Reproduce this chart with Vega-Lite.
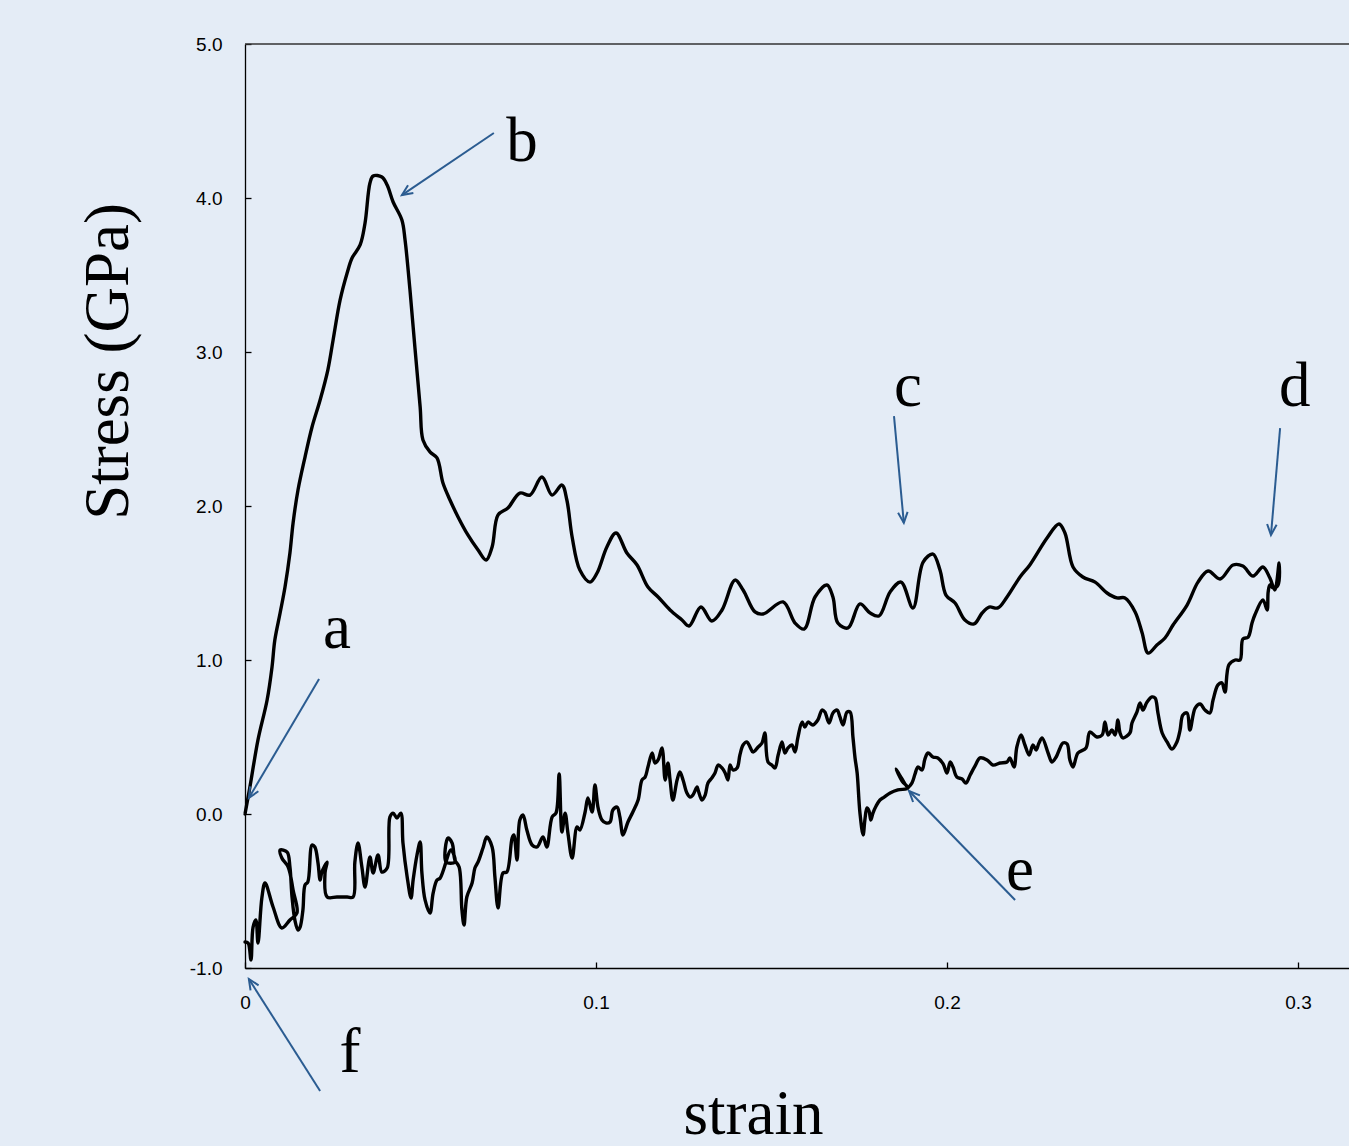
{
  "$schema": "https://vega.github.io/schema/vega-lite/v6.json",
  "width": 1104,
  "height": 924,
  "autosize": {"type": "none"},
  "padding": {"left": 245, "top": 44, "right": 0, "bottom": 178},
  "background": "#e4ecf6",
  "config": {"view": {"stroke": null}},
  "resolve": {"axis": {"x": "independent", "y": "independent"}},
  "datasets": {
    "curve": [
      {"i":1,"strain":0,"stress":0},{"i":2,"strain":0.0014,"stress":0.175},{"i":3,"strain":0.0037,"stress":0.481},{"i":4,"strain":0.0063,"stress":0.740},{"i":5,"strain":0.0077,"stress":0.955},{"i":6,"strain":0.0085,"stress":1.130},{"i":7,"strain":0.0100,"stress":1.305},{"i":8,"strain":0.0114,"stress":1.474},{"i":9,"strain":0.0128,"stress":1.695},{"i":10,"strain":0.0137,"stress":1.890},
      {"i":11,"strain":0.0151,"stress":2.104},{"i":12,"strain":0.0171,"stress":2.318},{"i":13,"strain":0.0191,"stress":2.513},{"i":14,"strain":0.0214,"stress":2.688},{"i":15,"strain":0.0236,"stress":2.883},{"i":16,"strain":0.0251,"stress":3.078},{"i":17,"strain":0.0271,"stress":3.338},{"i":18,"strain":0.0291,"stress":3.513},{"i":19,"strain":0.0305,"stress":3.610},{"i":20,"strain":0.0328,"stress":3.695},
      {"i":21,"strain":0.0342,"stress":3.838},{"i":22,"strain":0.0356,"stress":4.097},{"i":23,"strain":0.0365,"stress":4.143},{"i":24,"strain":0.0390,"stress":4.136},{"i":25,"strain":0.0405,"stress":4.084},{"i":26,"strain":0.0422,"stress":3.974},{"i":27,"strain":0.0447,"stress":3.857},{"i":28,"strain":0.0456,"stress":3.727},{"i":29,"strain":0.0470,"stress":3.403},{"i":30,"strain":0.0484,"stress":3.032},
      {"i":31,"strain":0.0499,"stress":2.643},{"i":32,"strain":0.0507,"stress":2.429},{"i":33,"strain":0.0527,"stress":2.351},{"i":34,"strain":0.0547,"stress":2.312},{"i":35,"strain":0.0564,"stress":2.149},{"i":36,"strain":0.0584,"stress":2.039},{"i":37,"strain":0.0607,"stress":1.929},{"i":38,"strain":0.0635,"stress":1.812},{"i":39,"strain":0.0664,"stress":1.714},{"i":40,"strain":0.0687,"stress":1.649},
      {"i":41,"strain":0.0704,"stress":1.734},{"i":42,"strain":0.0721,"stress":1.942},{"i":43,"strain":0.0749,"stress":1.987},{"i":44,"strain":0.0783,"stress":2.084},{"i":45,"strain":0.0812,"stress":2.071},{"i":46,"strain":0.0846,"stress":2.188},{"i":47,"strain":0.0875,"stress":2.071},{"i":48,"strain":0.0903,"stress":2.136},{"i":49,"strain":0.0917,"stress":2.039},{"i":50,"strain":0.0932,"stress":1.799},
      {"i":51,"strain":0.0954,"stress":1.584},{"i":52,"strain":0.0983,"stress":1.506},{"i":53,"strain":0.1003,"stress":1.565},{"i":54,"strain":0.1031,"stress":1.734},{"i":55,"strain":0.1057,"stress":1.825},{"i":56,"strain":0.1088,"stress":1.695},{"i":57,"strain":0.1117,"stress":1.617},{"i":58,"strain":0.1148,"stress":1.474},{"i":59,"strain":0.1177,"stress":1.409},{"i":60,"strain":0.1211,"stress":1.325},
      {"i":61,"strain":0.1245,"stress":1.260},{"i":62,"strain":0.1265,"stress":1.221},{"i":63,"strain":0.1299,"stress":1.344},{"i":64,"strain":0.1330,"stress":1.253},{"i":65,"strain":0.1359,"stress":1.325},{"i":66,"strain":0.1396,"stress":1.519},{"i":67,"strain":0.1419,"stress":1.455},{"i":68,"strain":0.1453,"stress":1.312},{"i":69,"strain":0.1476,"stress":1.299},{"i":70,"strain":0.1533,"stress":1.377},
      {"i":71,"strain":0.1567,"stress":1.240},{"i":72,"strain":0.1593,"stress":1.201},{"i":73,"strain":0.1624,"stress":1.409},{"i":74,"strain":0.1658,"stress":1.487},{"i":75,"strain":0.1675,"stress":1.409},{"i":76,"strain":0.1689,"stress":1.240},{"i":77,"strain":0.1718,"stress":1.208},{"i":78,"strain":0.1752,"stress":1.364},{"i":79,"strain":0.1781,"stress":1.305},{"i":80,"strain":0.1806,"stress":1.286},
      {"i":81,"strain":0.1838,"stress":1.442},{"i":82,"strain":0.1869,"stress":1.506},{"i":83,"strain":0.1903,"stress":1.338},{"i":84,"strain":0.1932,"stress":1.636},{"i":85,"strain":0.1960,"stress":1.688},{"i":86,"strain":0.1980,"stress":1.584},{"i":87,"strain":0.1997,"stress":1.422},{"i":88,"strain":0.2023,"stress":1.370},{"i":89,"strain":0.2051,"stress":1.260},{"i":90,"strain":0.2077,"stress":1.234},
      {"i":91,"strain":0.2100,"stress":1.305},{"i":92,"strain":0.2120,"stress":1.344},{"i":93,"strain":0.2145,"stress":1.338},{"i":94,"strain":0.2171,"stress":1.409},{"i":95,"strain":0.2208,"stress":1.539},{"i":96,"strain":0.2236,"stress":1.617},{"i":97,"strain":0.2285,"stress":1.792},{"i":98,"strain":0.2319,"stress":1.883},{"i":99,"strain":0.2336,"stress":1.825},{"i":100,"strain":0.2359,"stress":1.604},
      {"i":101,"strain":0.2387,"stress":1.539},{"i":102,"strain":0.2422,"stress":1.506},{"i":103,"strain":0.2456,"stress":1.435},{"i":104,"strain":0.2484,"stress":1.403},{"i":105,"strain":0.2507,"stress":1.403},{"i":106,"strain":0.2536,"stress":1.312},{"i":107,"strain":0.2556,"stress":1.175},{"i":108,"strain":0.2573,"stress":1.045},{"i":109,"strain":0.2598,"stress":1.097},{"i":110,"strain":0.2621,"stress":1.143},
      {"i":111,"strain":0.2644,"stress":1.227},{"i":112,"strain":0.2684,"stress":1.357},{"i":113,"strain":0.2715,"stress":1.506},{"i":114,"strain":0.2744,"stress":1.578},{"i":115,"strain":0.2778,"stress":1.526},{"i":116,"strain":0.2815,"stress":1.617},{"i":117,"strain":0.2843,"stress":1.610},{"i":118,"strain":0.2872,"stress":1.545},{"i":119,"strain":0.2900,"stress":1.604},{"i":120,"strain":0.2920,"stress":1.532},
      {"i":121,"strain":0.2934,"stress":1.455},{"i":122,"strain":0.2946,"stress":1.630},{"i":123,"strain":0.2943,"stress":1.487},{"i":124,"strain":0.2929,"stress":1.468},{"i":125,"strain":0.2920,"stress":1.487},{"i":126,"strain":0.2915,"stress":1.442},{"i":127,"strain":0.2912,"stress":1.325},{"i":128,"strain":0.2900,"stress":1.390},{"i":129,"strain":0.2877,"stress":1.292},{"i":130,"strain":0.2869,"stress":1.240},
      {"i":131,"strain":0.2858,"stress":1.149},{"i":132,"strain":0.2843,"stress":1.136},{"i":133,"strain":0.2835,"stress":1.000},{"i":134,"strain":0.2821,"stress":1.000},{"i":135,"strain":0.2803,"stress":0.968},{"i":136,"strain":0.2792,"stress":0.792},{"i":137,"strain":0.2783,"stress":0.851},{"i":138,"strain":0.2772,"stress":0.838},{"i":139,"strain":0.2758,"stress":0.740},{"i":140,"strain":0.2749,"stress":0.656},
      {"i":141,"strain":0.2735,"stress":0.675},{"i":142,"strain":0.2721,"stress":0.714},{"i":143,"strain":0.2707,"stress":0.688},{"i":144,"strain":0.2692,"stress":0.545},{"i":145,"strain":0.2684,"stress":0.656},{"i":146,"strain":0.2672,"stress":0.643},{"i":147,"strain":0.2664,"stress":0.545},{"i":148,"strain":0.2655,"stress":0.468},{"i":149,"strain":0.2641,"stress":0.422},{"i":150,"strain":0.2627,"stress":0.468},
      {"i":151,"strain":0.2613,"stress":0.526},{"i":152,"strain":0.2601,"stress":0.656},{"i":153,"strain":0.2593,"stress":0.753},{"i":154,"strain":0.2584,"stress":0.760},{"i":155,"strain":0.2570,"stress":0.727},{"i":156,"strain":0.2558,"stress":0.675},{"i":157,"strain":0.2550,"stress":0.721},{"i":158,"strain":0.2541,"stress":0.662},{"i":159,"strain":0.2527,"stress":0.591},{"i":160,"strain":0.2521,"stress":0.526},
      {"i":161,"strain":0.2501,"stress":0.494},{"i":162,"strain":0.2493,"stress":0.526},{"i":163,"strain":0.2487,"stress":0.610},{"i":164,"strain":0.2479,"stress":0.513},{"i":165,"strain":0.2470,"stress":0.545},{"i":166,"strain":0.2459,"stress":0.513},{"i":167,"strain":0.2450,"stress":0.597},{"i":168,"strain":0.2442,"stress":0.513},{"i":169,"strain":0.2427,"stress":0.500},{"i":170,"strain":0.2407,"stress":0.532},
      {"i":171,"strain":0.2396,"stress":0.429},{"i":172,"strain":0.2373,"stress":0.396},{"i":173,"strain":0.2359,"stress":0.305},{"i":174,"strain":0.2350,"stress":0.351},{"i":175,"strain":0.2342,"stress":0.455},{"i":176,"strain":0.2330,"stress":0.461},{"i":177,"strain":0.2322,"stress":0.429},{"i":178,"strain":0.2311,"stress":0.370},{"i":179,"strain":0.2299,"stress":0.338},{"i":180,"strain":0.2288,"stress":0.396},
      {"i":181,"strain":0.2271,"stress":0.494},{"i":182,"strain":0.2262,"stress":0.461},{"i":183,"strain":0.2254,"stress":0.416},{"i":184,"strain":0.2245,"stress":0.448},{"i":185,"strain":0.2234,"stress":0.383},{"i":186,"strain":0.2222,"stress":0.448},{"i":187,"strain":0.2211,"stress":0.513},{"i":188,"strain":0.2199,"stress":0.435},{"i":189,"strain":0.2191,"stress":0.305},{"i":190,"strain":0.2179,"stress":0.364},
      {"i":191,"strain":0.2171,"stress":0.338},{"i":192,"strain":0.2151,"stress":0.331},{"i":193,"strain":0.2131,"stress":0.318},{"i":194,"strain":0.2114,"stress":0.351},{"i":195,"strain":0.2094,"stress":0.364},{"i":196,"strain":0.2080,"stress":0.312},{"i":197,"strain":0.2066,"stress":0.253},{"i":198,"strain":0.2054,"stress":0.201},{"i":199,"strain":0.2043,"stress":0.227},{"i":200,"strain":0.2028,"stress":0.240},
      {"i":201,"strain":0.2017,"stress":0.305},{"i":202,"strain":0.2009,"stress":0.338},{"i":203,"strain":0.2000,"stress":0.266},{"i":204,"strain":0.1989,"stress":0.325},{"i":205,"strain":0.1974,"stress":0.364},{"i":206,"strain":0.1960,"stress":0.370},{"i":207,"strain":0.1946,"stress":0.396},{"i":208,"strain":0.1937,"stress":0.357},{"i":209,"strain":0.1929,"stress":0.286},{"i":210,"strain":0.1917,"stress":0.305},
      {"i":211,"strain":0.1909,"stress":0.260},{"i":212,"strain":0.1900,"stress":0.201},{"i":213,"strain":0.1889,"stress":0.175},{"i":214,"strain":0.1872,"stress":0.227},{"i":215,"strain":0.1855,"stress":0.292},{"i":216,"strain":0.1872,"stress":0.214},{"i":217,"strain":0.1889,"stress":0.169},{"i":218,"strain":0.1860,"stress":0.156},{"i":219,"strain":0.1838,"stress":0.136},{"i":220,"strain":0.1821,"stress":0.110},
      {"i":221,"strain":0.1809,"stress":0.091},{"i":222,"strain":0.1798,"stress":0.052},{"i":223,"strain":0.1789,"stress":0.006},{"i":224,"strain":0.1783,"stress":-0.039},{"i":225,"strain":0.1778,"stress":0.019},{"i":226,"strain":0.1772,"stress":0.039},{"i":227,"strain":0.1766,"stress":-0.039},{"i":228,"strain":0.1761,"stress":-0.136},{"i":229,"strain":0.1752,"stress":0.006},{"i":230,"strain":0.1744,"stress":0.266},
      {"i":231,"strain":0.1738,"stress":0.364},{"i":232,"strain":0.1732,"stress":0.500},{"i":233,"strain":0.1724,"stress":0.662},{"i":234,"strain":0.1715,"stress":0.662},{"i":235,"strain":0.1704,"stress":0.578},{"i":236,"strain":0.1695,"stress":0.630},{"i":237,"strain":0.1687,"stress":0.675},{"i":238,"strain":0.1675,"stress":0.656},{"i":239,"strain":0.1664,"stress":0.591},{"i":240,"strain":0.1652,"stress":0.662},
      {"i":241,"strain":0.1644,"stress":0.675},{"i":242,"strain":0.1632,"stress":0.610},{"i":243,"strain":0.1618,"stress":0.578},{"i":244,"strain":0.1604,"stress":0.597},{"i":245,"strain":0.1595,"stress":0.565},{"i":246,"strain":0.1587,"stress":0.597},{"i":247,"strain":0.1575,"stress":0.494},{"i":248,"strain":0.1567,"stress":0.403},{"i":249,"strain":0.1558,"stress":0.448},{"i":250,"strain":0.1547,"stress":0.429},
      {"i":251,"strain":0.1538,"stress":0.396},{"i":252,"strain":0.1530,"stress":0.468},{"i":253,"strain":0.1519,"stress":0.383},{"i":254,"strain":0.1510,"stress":0.299},{"i":255,"strain":0.1501,"stress":0.318},{"i":256,"strain":0.1490,"stress":0.338},{"i":257,"strain":0.1481,"stress":0.526},{"i":258,"strain":0.1473,"stress":0.461},{"i":259,"strain":0.1462,"stress":0.435},{"i":260,"strain":0.1447,"stress":0.403},
      {"i":261,"strain":0.1439,"stress":0.435},{"i":262,"strain":0.1430,"stress":0.468},{"i":263,"strain":0.1419,"stress":0.448},{"i":264,"strain":0.1410,"stress":0.383},{"i":265,"strain":0.1402,"stress":0.299},{"i":266,"strain":0.1390,"stress":0.286},{"i":267,"strain":0.1382,"stress":0.318},{"i":268,"strain":0.1376,"stress":0.221},{"i":269,"strain":0.1368,"stress":0.266},{"i":270,"strain":0.1359,"stress":0.299},
      {"i":271,"strain":0.1348,"stress":0.318},{"i":272,"strain":0.1339,"stress":0.266},{"i":273,"strain":0.1330,"stress":0.234},{"i":274,"strain":0.1319,"stress":0.201},{"i":275,"strain":0.1311,"stress":0.123},{"i":276,"strain":0.1302,"stress":0.091},{"i":277,"strain":0.1291,"stress":0.156},{"i":278,"strain":0.1288,"stress":0.175},{"i":279,"strain":0.1276,"stress":0.123},{"i":280,"strain":0.1268,"stress":0.110},
      {"i":281,"strain":0.1259,"stress":0.136},{"i":282,"strain":0.1248,"stress":0.221},{"i":283,"strain":0.1239,"stress":0.273},{"i":284,"strain":0.1231,"stress":0.221},{"i":285,"strain":0.1219,"stress":0.091},{"i":286,"strain":0.1211,"stress":0.221},{"i":287,"strain":0.1205,"stress":0.331},{"i":288,"strain":0.1197,"stress":0.221},{"i":289,"strain":0.1188,"stress":0.429},{"i":290,"strain":0.1177,"stress":0.351},
      {"i":291,"strain":0.1168,"stress":0.331},{"i":292,"strain":0.1160,"stress":0.396},{"i":293,"strain":0.1148,"stress":0.305},{"i":294,"strain":0.1140,"stress":0.240},{"i":295,"strain":0.1131,"stress":0.221},{"i":296,"strain":0.1120,"stress":0.091},{"i":297,"strain":0.1105,"stress":0.013},{"i":298,"strain":0.1091,"stress":-0.052},{"i":299,"strain":0.1077,"stress":-0.136},{"i":300,"strain":0.1068,"stress":-0.019},
      {"i":301,"strain":0.1060,"stress":0.045},{"i":302,"strain":0.1048,"stress":0.026},{"i":303,"strain":0.1040,"stress":-0.052},{"i":304,"strain":0.1028,"stress":-0.058},{"i":305,"strain":0.1017,"stress":-0.039},{"i":306,"strain":0.1006,"stress":0.039},{"i":307,"strain":0.0997,"stress":0.188},{"i":308,"strain":0.0989,"stress":0.013},{"i":309,"strain":0.0977,"stress":0.104},{"i":310,"strain":0.0969,"stress":0.013},
      {"i":311,"strain":0.0954,"stress":-0.104},{"i":312,"strain":0.0946,"stress":-0.084},{"i":313,"strain":0.0932,"stress":-0.286},{"i":314,"strain":0.0920,"stress":-0.123},{"i":315,"strain":0.0912,"stress":0.006},{"i":316,"strain":0.0903,"stress":-0.117},{"i":317,"strain":0.0895,"stress":0.260},{"i":318,"strain":0.0886,"stress":0.006},{"i":319,"strain":0.0875,"stress":-0.019},{"i":320,"strain":0.0860,"stress":-0.214},
      {"i":321,"strain":0.0849,"stress":-0.149},{"i":322,"strain":0.0832,"stress":-0.214},{"i":323,"strain":0.0818,"stress":-0.201},{"i":324,"strain":0.0803,"stress":-0.104},{"i":325,"strain":0.0792,"stress":-0.006},{"i":326,"strain":0.0783,"stress":-0.039},{"i":327,"strain":0.0775,"stress":-0.299},{"i":328,"strain":0.0766,"stress":-0.136},{"i":329,"strain":0.0761,"stress":-0.156},{"i":330,"strain":0.0746,"stress":-0.377},
      {"i":331,"strain":0.0735,"stress":-0.383},{"i":332,"strain":0.0721,"stress":-0.610},{"i":333,"strain":0.0712,"stress":-0.409},{"i":334,"strain":0.0704,"stress":-0.214},{"i":335,"strain":0.0689,"stress":-0.149},{"i":336,"strain":0.0678,"stress":-0.221},{"i":337,"strain":0.0664,"stress":-0.312},{"i":338,"strain":0.0655,"stress":-0.351},{"i":339,"strain":0.0647,"stress":-0.448},{"i":340,"strain":0.0632,"stress":-0.539},
      {"i":341,"strain":0.0624,"stress":-0.721},{"i":342,"strain":0.0618,"stress":-0.623},{"i":343,"strain":0.0610,"stress":-0.344},{"i":344,"strain":0.0598,"stress":-0.299},{"i":345,"strain":0.0590,"stress":-0.188},{"i":346,"strain":0.0578,"stress":-0.156},{"i":347,"strain":0.0573,"stress":-0.312},{"i":348,"strain":0.0598,"stress":-0.312},{"i":349,"strain":0.0587,"stress":-0.234},{"i":350,"strain":0.0556,"stress":-0.416},
      {"i":351,"strain":0.0547,"stress":-0.429},{"i":352,"strain":0.0536,"stress":-0.513},{"i":353,"strain":0.0527,"stress":-0.643},{"i":354,"strain":0.0513,"stress":-0.558},{"i":355,"strain":0.0504,"stress":-0.383},{"i":356,"strain":0.0499,"stress":-0.182},{"i":357,"strain":0.0490,"stress":-0.266},{"i":358,"strain":0.0479,"stress":-0.429},{"i":359,"strain":0.0473,"stress":-0.545},{"i":360,"strain":0.0462,"stress":-0.409},
      {"i":361,"strain":0.0450,"stress":-0.188},{"i":362,"strain":0.0444,"stress":0.006},{"i":363,"strain":0.0433,"stress":-0.026},{"i":364,"strain":0.0422,"stress":0.006},{"i":365,"strain":0.0413,"stress":-0.019},{"i":366,"strain":0.0405,"stress":-0.351},{"i":367,"strain":0.0390,"stress":-0.377},{"i":368,"strain":0.0379,"stress":-0.266},{"i":369,"strain":0.0365,"stress":-0.383},{"i":370,"strain":0.0356,"stress":-0.279},
      {"i":371,"strain":0.0342,"stress":-0.474},{"i":372,"strain":0.0333,"stress":-0.344},{"i":373,"strain":0.0322,"stress":-0.188},{"i":374,"strain":0.0313,"stress":-0.312},{"i":375,"strain":0.0308,"stress":-0.539},{"i":376,"strain":0.0291,"stress":-0.539},{"i":377,"strain":0.0262,"stress":-0.539},{"i":378,"strain":0.0234,"stress":-0.539},{"i":379,"strain":0.0228,"stress":-0.383},{"i":380,"strain":0.0234,"stress":-0.312},
      {"i":381,"strain":0.0219,"stress":-0.377},{"i":382,"strain":0.0214,"stress":-0.429},{"i":383,"strain":0.0208,"stress":-0.318},{"i":384,"strain":0.0199,"stress":-0.214},{"i":385,"strain":0.0191,"stress":-0.201},{"i":386,"strain":0.0179,"stress":-0.442},{"i":387,"strain":0.0171,"stress":-0.461},{"i":388,"strain":0.0165,"stress":-0.623},{"i":389,"strain":0.0157,"stress":-0.734},{"i":390,"strain":0.0151,"stress":-0.753},
      {"i":391,"strain":0.0142,"stress":-0.688},{"i":392,"strain":0.0134,"stress":-0.539},{"i":393,"strain":0.0128,"stress":-0.344},{"i":394,"strain":0.0120,"stress":-0.247},{"i":395,"strain":0.0100,"stress":-0.234},{"i":396,"strain":0.0105,"stress":-0.286},{"i":397,"strain":0.0123,"stress":-0.344},{"i":398,"strain":0.0137,"stress":-0.494},{"i":399,"strain":0.0148,"stress":-0.643},{"i":400,"strain":0.0128,"stress":-0.688},
      {"i":401,"strain":0.0105,"stress":-0.740},{"i":402,"strain":0.0080,"stress":-0.604},{"i":403,"strain":0.0057,"stress":-0.448},{"i":404,"strain":0.0048,"stress":-0.545},{"i":405,"strain":0.0037,"stress":-0.838},{"i":406,"strain":0.0031,"stress":-0.688},{"i":407,"strain":0.0023,"stress":-0.734},{"i":408,"strain":0.0017,"stress":-0.948},{"i":409,"strain":0.0009,"stress":-0.838},{"i":410,"strain":0,"stress":-0.831}
    ],
    "notes": [
      {"label":"a","lx":0.0262,"ly":1.078,"x0":0.0211,"y0":0.877,"x1":0.0011,"y1":0.104},
      {"label":"b","lx":0.0789,"ly":4.240,"x0":0.0709,"y0":4.422,"x1":0.0447,"y1":4.019},
      {"label":"c","lx":0.1889,"ly":2.649,"x0":0.1849,"y0":2.584,"x1":0.1877,"y1":1.890},
      {"label":"d","lx":0.2991,"ly":2.649,"x0":0.2949,"y0":2.506,"x1":0.2923,"y1":1.812},
      {"label":"e","lx":0.2208,"ly":-0.494,"x0":0.2194,"y0":-0.558,"x1":0.1892,"y1":0.149},
      {"label":"f","lx":0.0299,"ly":-1.675,"x0":0.0214,"y0":-1.799,"x1":0.0011,"y1":-1.071}
    ],
    "frame": [{"top": 5}]
  },
  "layer": [
    {
      "data": {"name": "curve"},
      "mark": {"type": "line", "interpolate": "catmull-rom", "color": "#000000", "strokeWidth": 3.4, "strokeJoin": "round", "strokeCap": "round"},
      "encoding": {
        "x": {"field": "strain", "type": "quantitative",
          "scale": {"domain": [0, 0.31453], "nice": false, "zero": false},
          "axis": {"values": [0, 0.1, 0.2, 0.3], "format": "~g", "grid": false,
            "domainColor": "#000000", "domainWidth": 1.3, "tickColor": "#000000", "tickWidth": 1.3, "tickSize": -6,
            "labelFont": "Liberation Sans", "labelFontSize": 19, "labelColor": "#000000", "labelPadding": 31,
            "labelFlush": false, "labelOverlap": false, "labelBound": false,
            "title": "strain", "titleFont": "Liberation Serif", "titleFontSize": 63, "titleFontWeight": "normal", "titleColor": "#000000",
            "titleX": 508, "titleY": 165, "titleBaseline": "alphabetic", "titleAlign": "center"}},
        "y": {"field": "stress", "type": "quantitative",
          "scale": {"domain": [-1, 5], "nice": false, "zero": false},
          "axis": {"values": [-1, 0, 1, 2, 3, 4, 5],
            "labelExpr": "datum.value < 0 ? '-' + format(-datum.value, '.1f') : format(datum.value, '.1f')",
            "grid": false, "domainColor": "#000000", "domainWidth": 1.3, "tickColor": "#000000", "tickWidth": 1.3, "tickSize": -6,
            "labelFont": "Liberation Sans", "labelFontSize": 19, "labelColor": "#000000", "labelPadding": 29,
            "labelFlush": false, "labelOverlap": false, "labelBound": false,
            "title": "Stress (GPa)", "titleFont": "Liberation Serif", "titleFontSize": 63, "titleFontWeight": "normal", "titleColor": "#000000",
            "titleX": -118, "titleY": 317, "titleAngle": 270, "titleBaseline": "alphabetic", "titleAlign": "center"}},
        "order": {"field": "i", "type": "quantitative"}
      }
    },
    {
      "data": {"name": "frame"},
      "mark": {"type": "rule", "color": "#333333", "strokeWidth": 1.3},
      "encoding": {"y": {"field": "top", "type": "quantitative", "axis": null}}
    },
    {
      "data": {"name": "notes"},
      "mark": {"type": "rule", "color": "#2b5c91", "strokeWidth": 2},
      "encoding": {
        "x": {"field": "x0", "type": "quantitative", "axis": null},
        "y": {"field": "y0", "type": "quantitative", "axis": null},
        "x2": {"field": "x1"},
        "y2": {"field": "y1"}
      }
    },
    {
      "data": {"name": "notes"},
      "transform": [{"filter": "datum.label === 'a'"}],
      "mark": {"type": "point", "shape": "M-1,-0.45L0,0L-1,0.45", "filled": false, "size": 450, "strokeWidth": 2, "color": "#2b5c91", "opacity": 1, "angle": 120.5},
      "encoding": {"x": {"field": "x1", "type": "quantitative", "axis": null}, "y": {"field": "y1", "type": "quantitative", "axis": null}}
    },
    {
      "data": {"name": "notes"},
      "transform": [{"filter": "datum.label === 'b'"}],
      "mark": {"type": "point", "shape": "M-1,-0.45L0,0L-1,0.45", "filled": false, "size": 450, "strokeWidth": 2, "color": "#2b5c91", "opacity": 1, "angle": 146},
      "encoding": {"x": {"field": "x1", "type": "quantitative", "axis": null}, "y": {"field": "y1", "type": "quantitative", "axis": null}}
    },
    {
      "data": {"name": "notes"},
      "transform": [{"filter": "datum.label === 'c'"}],
      "mark": {"type": "point", "shape": "M-1,-0.45L0,0L-1,0.45", "filled": false, "size": 450, "strokeWidth": 2, "color": "#2b5c91", "opacity": 1, "angle": 84.7},
      "encoding": {"x": {"field": "x1", "type": "quantitative", "axis": null}, "y": {"field": "y1", "type": "quantitative", "axis": null}}
    },
    {
      "data": {"name": "notes"},
      "transform": [{"filter": "datum.label === 'd'"}],
      "mark": {"type": "point", "shape": "M-1,-0.45L0,0L-1,0.45", "filled": false, "size": 450, "strokeWidth": 2, "color": "#2b5c91", "opacity": 1, "angle": 94.8},
      "encoding": {"x": {"field": "x1", "type": "quantitative", "axis": null}, "y": {"field": "y1", "type": "quantitative", "axis": null}}
    },
    {
      "data": {"name": "notes"},
      "transform": [{"filter": "datum.label === 'e'"}],
      "mark": {"type": "point", "shape": "M-1,-0.45L0,0L-1,0.45", "filled": false, "size": 450, "strokeWidth": 2, "color": "#2b5c91", "opacity": 1, "angle": 225.8},
      "encoding": {"x": {"field": "x1", "type": "quantitative", "axis": null}, "y": {"field": "y1", "type": "quantitative", "axis": null}}
    },
    {
      "data": {"name": "notes"},
      "transform": [{"filter": "datum.label === 'f'"}],
      "mark": {"type": "point", "shape": "M-1,-0.45L0,0L-1,0.45", "filled": false, "size": 450, "strokeWidth": 2, "color": "#2b5c91", "opacity": 1, "angle": 237.5},
      "encoding": {"x": {"field": "x1", "type": "quantitative", "axis": null}, "y": {"field": "y1", "type": "quantitative", "axis": null}}
    },
    {
      "data": {"name": "notes"},
      "mark": {"type": "text", "font": "Liberation Serif", "fontSize": 63, "align": "center", "baseline": "alphabetic", "color": "#000000"},
      "encoding": {
        "x": {"field": "lx", "type": "quantitative", "axis": null},
        "y": {"field": "ly", "type": "quantitative", "axis": null},
        "text": {"field": "label"}
      }
    }
  ]
}
